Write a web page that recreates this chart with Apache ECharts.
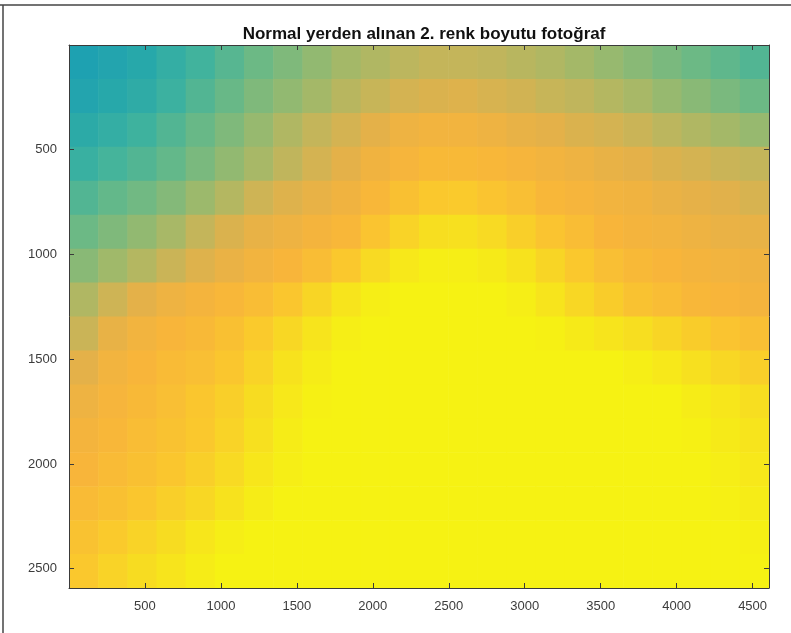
<!DOCTYPE html>
<html>
<head>
<meta charset="utf-8">
<script src="https://cdn.jsdelivr.net/npm/echarts@6/dist/echarts.min.js"></script>
<style>
  html, body { margin: 0; padding: 0; background: #fff; }
  #chart { width: 791px; height: 633px; }
</style>
</head>
<body>
<div id="chart"></div>
<script>
// image is 4608 x 2592, sampled in 24 x 16 blocks (block origin in image pixels)
const xCols = [0, 192, 384, 576, 768, 960, 1152, 1344, 1536, 1728, 1920, 2112,
               2304, 2496, 2688, 2880, 3072, 3264, 3456, 3648, 3840, 4032, 4224, 4416];
const yRows = [0, 162, 324, 486, 648, 810, 972, 1134, 1296, 1458, 1620, 1782,
               1944, 2106, 2268, 2430];

// colour level per block (0 = teal corner, 1 = yellow)
const row0  = [0.02,0.06,0.10,0.15,0.20,0.25,0.30,0.34,0.38,0.42,0.45,0.48,0.50,0.50,0.49,0.47,0.45,0.42,0.39,0.36,0.33,0.30,0.27,0.24];
const row1  = [0.06,0.10,0.13,0.18,0.24,0.29,0.34,0.38,0.42,0.47,0.51,0.55,0.57,0.58,0.56,0.54,0.51,0.49,0.46,0.43,0.39,0.36,0.33,0.30];
const row2  = [0.12,0.15,0.19,0.24,0.29,0.34,0.39,0.45,0.50,0.55,0.60,0.65,0.67,0.67,0.65,0.62,0.60,0.57,0.55,0.52,0.48,0.45,0.42,0.39];
const row3  = [0.17,0.21,0.24,0.28,0.33,0.38,0.43,0.49,0.55,0.60,0.66,0.69,0.72,0.72,0.71,0.69,0.67,0.65,0.62,0.60,0.57,0.55,0.52,0.50];
const row4  = [0.24,0.28,0.31,0.35,0.40,0.46,0.53,0.58,0.62,0.66,0.71,0.76,0.80,0.81,0.78,0.75,0.71,0.69,0.67,0.66,0.63,0.61,0.59,0.56];
const row5  = [0.30,0.34,0.38,0.43,0.50,0.57,0.62,0.65,0.68,0.71,0.78,0.85,0.90,0.91,0.88,0.83,0.78,0.74,0.70,0.68,0.67,0.65,0.63,0.62];
const row6  = [0.36,0.41,0.46,0.52,0.58,0.63,0.67,0.70,0.74,0.80,0.88,0.95,0.98,0.98,0.96,0.92,0.86,0.80,0.75,0.72,0.70,0.68,0.67,0.66];
const row7  = [0.45,0.53,0.60,0.65,0.68,0.71,0.74,0.79,0.86,0.93,0.98,1.00,1.00,1.00,1.00,0.98,0.93,0.87,0.82,0.77,0.74,0.71,0.70,0.68];
const row8  = [0.52,0.62,0.67,0.70,0.72,0.76,0.81,0.87,0.93,0.98,1.00,1.00,1.00,1.00,1.00,1.00,0.99,0.96,0.93,0.90,0.86,0.82,0.78,0.75];
const row9  = [0.60,0.67,0.70,0.73,0.75,0.79,0.85,0.92,0.97,1.00,1.00,1.00,1.00,1.00,1.00,1.00,1.00,1.00,1.00,0.98,0.95,0.91,0.87,0.83];
const row10 = [0.65,0.69,0.72,0.75,0.79,0.83,0.89,0.95,0.99,1.00,1.00,1.00,1.00,1.00,1.00,1.00,1.00,1.00,1.00,1.00,1.00,0.97,0.94,0.90];
const row11 = [0.68,0.71,0.74,0.77,0.80,0.85,0.91,0.97,1.00,1.00,1.00,1.00,1.00,1.00,1.00,1.00,1.00,1.00,1.00,1.00,1.00,0.99,0.96,0.93];
const row12 = [0.70,0.73,0.76,0.79,0.83,0.88,0.94,0.98,1.00,1.00,1.00,1.00,1.00,1.00,1.00,1.00,1.00,1.00,1.00,1.00,1.00,1.00,0.98,0.95];
const row13 = [0.73,0.76,0.79,0.83,0.87,0.92,0.97,1.00,1.00,1.00,1.00,1.00,1.00,1.00,1.00,1.00,1.00,1.00,1.00,1.00,1.00,1.00,0.99,0.97];
const row14 = [0.77,0.81,0.85,0.89,0.94,0.98,1.00,1.00,1.00,1.00,1.00,1.00,1.00,1.00,1.00,1.00,1.00,1.00,1.00,1.00,1.00,1.00,1.00,0.99];
const row15 = [0.80,0.85,0.89,0.93,0.97,1.00,1.00,1.00,1.00,1.00,1.00,1.00,1.00,1.00,1.00,1.00,1.00,1.00,1.00,1.00,1.00,1.00,1.00,1.00];
const fieldRows = [row0, row1, row2, row3, row4, row5, row6, row7,
                   row8, row9, row10, row11, row12, row13, row14, row15];

const xTicks = [500, 1000, 1500, 2000, 2500, 3000, 3500, 4000, 4500];
const yTicks = [500, 1000, 1500, 2000, 2500];

const IMG_W = 4608, IMG_H = 2592;
const CELL_W = 192, CELL_H = 162;

let cells = [];
fieldRows.forEach((row, i) => {
    row.forEach((v, j) => {
        cells.push([xCols[j], yRows[i], v]);
    });
});

const chart = echarts.init(document.getElementById('chart'));

const tickLabel = (list) => (val) => list.indexOf(val) >= 0 ? String(val) : '';
const labelStyle = {
    color: '#3c3c3c',
    fontFamily: 'Liberation Sans, Arial, sans-serif',
    fontSize: 13
};
const lineStyle = {color: '#3a3a3a', width: 1};

function makeAxis(pos, max, ticks, inverse, showLabel) {
    return {
        type: 'value',
        position: pos,
        min: 0,
        max: max,
        interval: 500,
        inverse: inverse,
        z: 10,
        splitLine: {show: false},
        axisLine: {show: true, onZero: false, lineStyle: lineStyle},
        axisTick: {show: true, inside: true, length: 5, lineStyle: lineStyle},
        axisLabel: Object.assign({show: showLabel, margin: 12, formatter: tickLabel(ticks)}, labelStyle)
    };
}

let option = {
    animation: false,
    backgroundColor: '#ffffff',
    title: {
        text: 'Normal yerden alınan 2. renk boyutu fotoğraf',
        left: 419,
        top: 21,
        textAlign: 'center',
        textStyle: {
            fontFamily: 'Liberation Sans, Arial, sans-serif',
            fontSize: 17,
            fontWeight: 'bold',
            color: '#111'
        }
    },
    grid: {left: 69, right: 22, top: 45, bottom: 45},
    xAxis: [
        makeAxis('bottom', IMG_W, xTicks, false, true),
        makeAxis('top', IMG_W, xTicks, false, false)
    ],
    yAxis: [
        makeAxis('left', IMG_H, yTicks, true, true),
        makeAxis('right', IMG_H, yTicks, true, false)
    ],
    visualMap: {
        show: false,
        type: 'continuous',
        seriesIndex: 0,
        dimension: 2,
        min: 0,
        max: 1,
        inRange: {
            color: ['#1c9fb3', '#27a8aa', '#41b39d', '#6cb985', '#9cb96c', '#c4b55a',
                    '#e4b149', '#f8b53a', '#fac82d', '#f7de20', '#f6f213']
        }
    },
    series: [{
        type: 'custom',
        coordinateSystem: 'cartesian2d',
        xAxisIndex: 0,
        yAxisIndex: 0,
        z: 1,
        data: cells,
        encode: {x: 0, y: 1},
        clip: true,
        renderItem: function (params, api) {
            let p0 = api.coord([api.value(0), api.value(1)]);
            let p1 = api.coord([api.value(0) + CELL_W, api.value(1) + CELL_H]);
            return {
                type: 'rect',
                shape: {
                    x: Math.min(p0[0], p1[0]),
                    y: Math.min(p0[1], p1[1]),
                    width: Math.abs(p1[0] - p0[0]) + 0.6,
                    height: Math.abs(p1[1] - p0[1]) + 0.6
                },
                style: {fill: api.visual('color')}
            };
        }
    }],
    graphic: [
        {type: 'line', shape: {x1: 0, y1: 5, x2: 791, y2: 5}, style: {stroke: '#444', lineWidth: 1.5}},
        {type: 'line', shape: {x1: 3, y1: 5, x2: 3, y2: 633}, style: {stroke: '#444', lineWidth: 1.5}}
    ]
};

chart.setOption(option);
</script>
</body>
</html>
